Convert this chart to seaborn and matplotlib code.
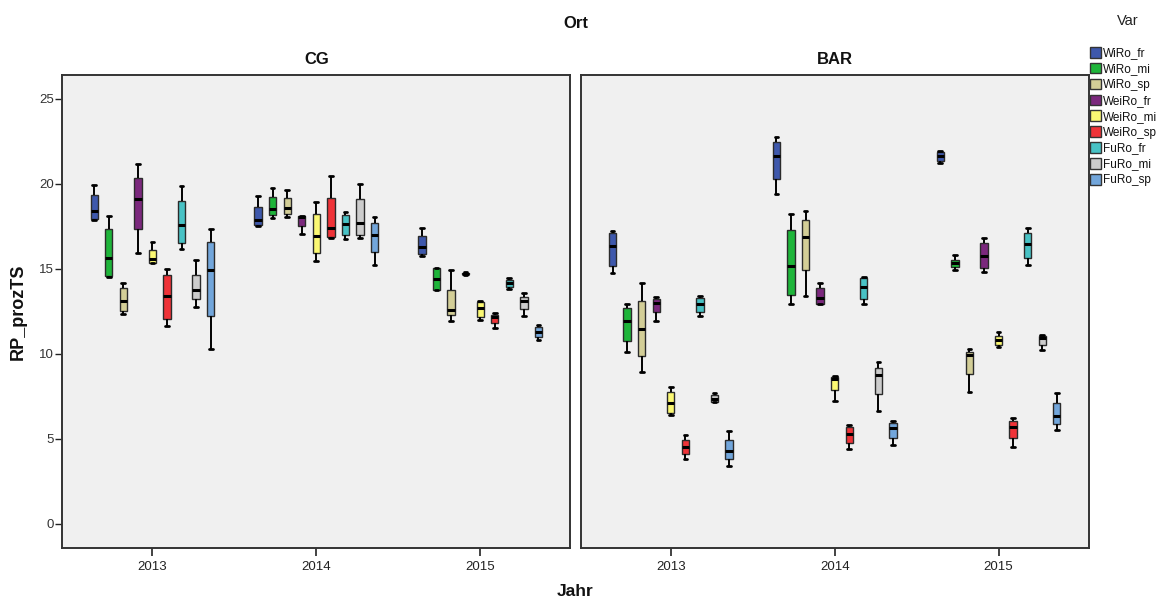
import numpy as np
import pandas as pd
import seaborn as sns
import matplotlib.pyplot as plt
from matplotlib.patches import Patch

# ---- data: per box [min, q1, median, q3, max] ----
var_names = ["WiRo_fr", "WiRo_mi", "WiRo_sp", "WeiRo_fr", "WeiRo_mi",
             "WeiRo_sp", "FuRo_fr", "FuRo_mi", "FuRo_sp"]
years = ["2013", "2014", "2015"]
orte = ["CG", "BAR"]

CG_2013 = [
    [17.90, 17.92, 18.41, 19.37, 19.94],
    [14.50, 14.57, 15.65, 17.35, 18.14],
    [12.37, 12.51, 13.14, 13.88, 14.20],
    [15.94, 17.35, 19.14, 20.33, 21.16],
    [15.35, 15.35, 15.59, 16.14, 16.61],
    [11.65, 12.08, 13.39, 14.67, 15.02],
    [16.18, 16.55, 17.57, 19.02, 19.88],
    [12.78, 13.24, 13.76, 14.67, 15.53],
    [10.31, 12.22, 14.96, 16.57, 17.37],
]
CG_2014 = [
    [17.53, 17.61, 17.90, 18.67, 19.29],
    [18.02, 18.18, 18.51, 19.24, 19.76],
    [18.03, 18.22, 18.57, 19.18, 19.62],
    [17.08, 17.53, 18.08, 18.14, 18.14],
    [15.45, 15.92, 16.96, 18.21, 18.94],
    [16.82, 16.88, 17.43, 19.16, 20.47],
    [16.75, 17.00, 17.67, 18.20, 18.33],
    [16.82, 16.98, 17.69, 19.10, 20.02],
    [15.25, 15.98, 17.02, 17.69, 18.06],
]
CG_2015 = [
    [15.76, 15.90, 16.31, 16.92, 17.41],
    [13.76, 13.76, 14.43, 15.08, 15.08],
    [11.94, 12.29, 12.61, 13.78, 14.94],
    [14.65, 14.68, 14.72, 14.76, 14.80],
    [11.98, 12.20, 12.71, 13.06, 13.12],
    [11.53, 11.80, 12.18, 12.31, 12.41],
    [13.80, 13.92, 14.18, 14.37, 14.47],
    [12.24, 12.65, 13.14, 13.37, 13.57],
    [10.84, 10.98, 11.27, 11.61, 11.73],
]
BAR_2013 = [
    [14.75, 15.20, 16.33, 17.12, 17.24],
    [10.14, 10.78, 11.94, 12.69, 12.92],
    [8.92, 9.90, 11.45, 13.10, 14.16],
    [11.94, 12.45, 13.02, 13.22, 13.33],
    [6.43, 6.53, 7.12, 7.78, 8.04],
    [3.82, 4.10, 4.51, 4.94, 5.24],
    [12.24, 12.49, 12.92, 13.29, 13.43],
    [7.16, 7.16, 7.35, 7.59, 7.73],
    [3.43, 3.80, 4.29, 4.94, 5.45],
]
BAR_2014 = [
    [19.43, 20.31, 21.65, 22.45, 22.75],
    [12.92, 13.49, 15.18, 17.27, 18.25],
    [13.43, 14.96, 16.90, 17.86, 18.43],
    [12.94, 12.94, 13.29, 13.86, 14.16],
    [7.22, 7.86, 8.53, 8.63, 8.73],
    [4.41, 4.75, 5.29, 5.69, 5.82],
    [12.94, 13.22, 13.94, 14.45, 14.53],
    [6.65, 7.65, 8.75, 9.18, 9.53],
    [4.63, 5.04, 5.65, 5.94, 6.04],
]
BAR_2015 = [
    [21.22, 21.33, 21.63, 21.90, 21.96],
    [14.92, 15.10, 15.33, 15.53, 15.84],
    [7.75, 8.82, 9.94, 10.14, 10.31],
    [14.84, 15.08, 15.78, 16.55, 16.82],
    [10.43, 10.53, 10.80, 11.08, 11.31],
    [4.55, 5.04, 5.73, 6.08, 6.24],
    [15.24, 15.65, 16.47, 17.12, 17.41],
    [10.24, 10.53, 10.92, 11.04, 11.14],
    [5.55, 5.90, 6.37, 7.14, 7.73],
]

palette = ["#3E58AC", "#1EB53A", "#D3CE97", "#7B287D", "#FBF873",
           "#EF3338", "#48C2C5", "#CCCCCC", "#72A6DB"]

# ---- long-form table ----
rows = []
blocks_by_ort = {"CG": [CG_2013, CG_2014, CG_2015],
                 "BAR": [BAR_2013, BAR_2014, BAR_2015]}
for ort in orte:
    for year, block in zip(years, blocks_by_ort[ort]):
        for var, stats in zip(var_names, block):
            for v in stats:
                rows.append((ort, year, var, v))
df = pd.DataFrame(rows, columns=["Ort", "Jahr", "Var", "RP_prozTS"])

sns.set_theme(style="white")
plt.rcParams['font.family'] = ['Liberation Sans', 'DejaVu Sans']

W, H = 1168, 601
fig = plt.figure(figsize=(W / 100, H / 100), dpi=100)
bottom = 1 - 548.3 / H
height = (548.3 - 75) / H
ax1 = fig.add_axes([62.3 / W, bottom, 508 / W, height])
ax2 = fig.add_axes([580.7 / W, bottom, 508 / W, height], sharey=ax1)

for ax, ort in zip([ax1, ax2], orte):
    sns.boxplot(data=df[df["Ort"] == ort], x="Jahr", y="RP_prozTS", hue="Var",
                order=years, hue_order=var_names, palette=palette,
                saturation=1, width=0.8, gap=0.5, whis=(0, 100),
                linecolor="#2b2b2b", linewidth=1.0,
                medianprops=dict(color="black", linewidth=2.2),
                whiskerprops=dict(color="black", linewidth=1.4),
                capprops=dict(color="black", linewidth=2.0),
                legend=False, ax=ax)
    ax.set_facecolor("#F0F0F0")
    ax.set_xlim(-0.55, 2.55)
    ax.set_xlabel("")
    ax.set_title(ort, fontsize=12, fontweight="bold", pad=8, color="#111111")
    for s in ax.spines.values():
        s.set_color("#333333")
        s.set_linewidth(1.4)
    ax.tick_params(axis="x", bottom=True, length=6, width=1.2, color="#222222",
                   labelsize=9.5, pad=3, labelcolor="#222222")

ax1.set_ylim(-1.43, 26.41)
ax1.set_yticks([0, 5, 10, 15, 20, 25])
ax1.tick_params(axis="y", left=True, length=5, width=1.0, color="#222222",
                labelsize=9.5, pad=1, labelcolor="#333333")
ax1.set_ylabel("RP_prozTS", fontsize=13, fontweight="bold", color="#111111")
ax1.yaxis.set_label_coords(-(62.3 - 27) / 508, 0.5)
ax2.set_ylabel("")
ax2.tick_params(axis="y", left=False, labelleft=False)

fig.text(575 / W, 1 - 592 / H, "Jahr", fontsize=12.5, fontweight="bold",
         ha="center", va="center", color="#111111")
fig.text(576 / W, 1 - 24 / H, "Ort", fontsize=12, fontweight="bold",
         ha="center", va="center", color="#111111")
fig.text(1128 / W, 1 - 21 / H, "Var", fontsize=10.5, ha="center", va="center",
         color="#222222")

handles = [Patch(facecolor=c, edgecolor="#333333", linewidth=1) for c in palette]
fig.legend(handles, var_names, loc="upper left",
           bbox_to_anchor=(1089.5 / W, 1 - 47 / H), frameon=False, fontsize=8.5,
           handlelength=1.0, handleheight=1.0, handletextpad=0.12,
           labelspacing=0.3, borderpad=0, borderaxespad=0,
           labelcolor="#111111")

fig.savefig("out.png", dpi=100)
